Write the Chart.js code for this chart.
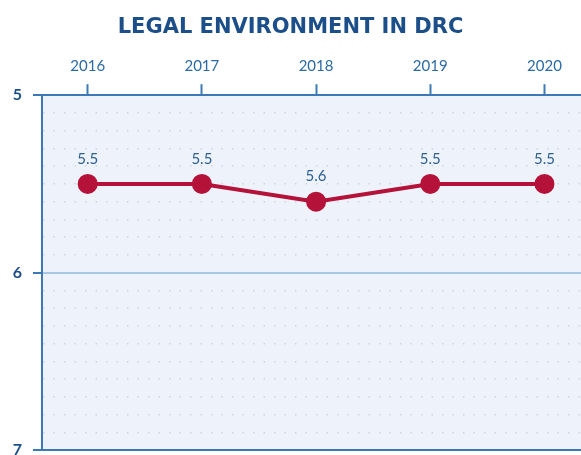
<!DOCTYPE html>
<html>
<head>
<meta charset="utf-8">
<script src="https://cdn.jsdelivr.net/npm/chart.js@4"></script>
<style>
  body { margin: 0; background: #fff; }
  #wrap { width: 581px; height: 455px; }
</style>
</head>
<body>
<div id="wrap"><canvas id="grafico"></canvas></div>
<script>
const anios = [2016, 2017, 2018, 2019, 2020];
const puntajes = [5.5, 5.5, 5.6, 5.5, 5.5];
const etiquetas = ["5.5", "5.5", "5.6", "5.5", "5.5"];

const azulEje = "#3d7ab5";
const azulTexto = "#2c6aa3";

// fondo del area y etiquetas sobre los puntos
const extras = {
  id: "extras",
  beforeDraw(chart) {
    const { ctx, chartArea: a } = chart;
    ctx.save();
    ctx.fillStyle = "#eef3fb";
    ctx.fillRect(a.left, a.top, a.right - a.left, a.bottom - a.top);
    ctx.restore();
  },
  afterDatasetsDraw(chart) {
    const ctx = chart.ctx;
    const meta = chart.getDatasetMeta(0);
    ctx.save();
    ctx.font = "15px Lato";
    ctx.fillStyle = "#2d5f8f";
    ctx.textAlign = "center";
    ctx.textBaseline = "middle";
    meta.data.forEach((p, i) => {
      ctx.fillText(etiquetas[i], p.x, p.y - 25);
    });
    ctx.restore();
  }
};

const esEntero = v => Math.abs(v - Math.round(v)) < 1e-6;

new Chart(document.getElementById("grafico"), {
  type: "line",
  data: {
    datasets: [{
      data: anios.map((x, i) => ({ x: x, y: puntajes[i] })),
      borderColor: "#b5123a",
      backgroundColor: "#b5123a",
      borderWidth: 4,
      pointRadius: 8,
      pointHoverRadius: 8,
      tension: 0
    }]
  },
  options: {
    responsive: true,
    maintainAspectRatio: false,
    animation: false,
    layout: { autoPadding: false, padding: { left: 0, right: 0, top: 0, bottom: 5 } },
    scales: {
      x: {
        type: "linear",
        position: "top",
        min: 2015.6,
        max: 2020.32,
        afterBuildTicks: s => { s.ticks = anios.map(v => ({ value: v })); },
        afterFit: s => { s.paddingLeft = 0; s.paddingRight = 0; },
        ticks: {
          color: azulTexto,
          font: { family: "Lato", size: 15 },
          padding: 9,
          callback: v => String(v)
        },
        grid: {
          drawOnChartArea: false,
          tickLength: 11,
          tickColor: azulEje,
          tickWidth: 2
        },
        border: { color: azulEje, width: 2 }
      },
      y: {
        reverse: true,
        min: 5,
        max: 7,
        afterFit: s => { s.width = 42; s.paddingTop = 0; s.paddingBottom = 0; },
        afterBuildTicks: s => {
          const t = [];
          for (let i = 0; i <= 20; i++) t.push({ value: 5 + i / 10 });
          s.ticks = t;
        },
        ticks: {
          autoSkip: false,
          color: "#1c4f8a",
          font: { family: "Lato", size: 16, weight: "bold" },
          padding: 11,
          callback: v => esEntero(v) ? String(Math.round(v)) : ""
        },
        grid: {
          tickLength: 9,
          tickBorderDash: [],
          tickWidth: 2,
          tickColor: c => (c.tick && esEntero(c.tick.value)) ? azulEje : "rgba(0,0,0,0)",
          color: c => {
            if (!c.tick) return "#cdd3dd";
            const v = c.tick.value;
            if (Math.abs(v - 6) < 1e-6) return "#a9c7e6";
            if (Math.abs(v - 7) < 1e-6) return azulEje;
            if (Math.abs(v - 5) < 1e-6) return "rgba(0,0,0,0)";
            return "#cdd3dd";
          },
          lineWidth: c => (c.tick && esEntero(c.tick.value)) ? 2 : 1.5
        },
        border: {
          color: azulEje,
          width: 2,
          dash: c => (c.tick && !esEntero(c.tick.value)) ? [1.5, 9] : [],
          dashOffset: 0
        }
      }
    },
    plugins: {
      legend: { display: false },
      tooltip: { enabled: false },
      title: {
        display: true,
        text: "LEGAL ENVIRONMENT IN DRC",
        color: "#1c4f8a",
        font: { family: "DejaVu Sans", size: 21, weight: "bold" },
        padding: { top: 15, bottom: 8 }
      }
    }
  },
  plugins: [extras]
});
</script>
</body>
</html>
